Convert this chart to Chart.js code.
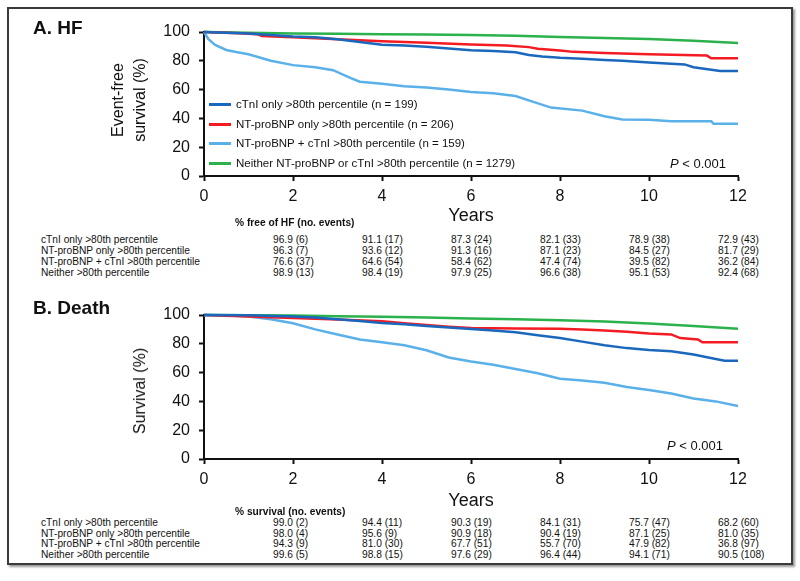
<!DOCTYPE html>
<html>
<head>
<meta charset="utf-8">
<script src="https://cdn.jsdelivr.net/npm/chart.js@4.4.0/dist/chart.umd.min.js"></script>
<style>
  body { margin: 0; background: #fff; font-family: 'Liberation Sans', Arial, sans-serif; color: #111; }
  #wrap { position: relative; width: 800px; height: 581px; overflow: hidden; }
  #frame { position: absolute; left: 7px; top: 7px; width: 786px; height: 558px; box-sizing: border-box;
           border: 2px solid #3a3a3a; box-shadow: 2px 2px 2px #9a9a9a; }
  canvas { position: absolute; left: 0; }
  .t { position: absolute; white-space: nowrap; }
  .panel { font-weight: bold; font-size: 19px; line-height: 19px; }
  .ytitle { font-size: 16px; line-height: 22px; text-align: center; transform: translate(-50%, -50%) rotate(-90deg); }
  .xtitle { font-size: 18px; line-height: 18px; transform: translateX(-50%); }
  .leg { font-size: 11.5px; line-height: 12px; }
  .legline { position: absolute; width: 22px; height: 3px; }
  .pval { font-size: 13px; line-height: 13px; }
  .tab { font-size: 10.2px; line-height: 10px; }
  .tabhead { font-size: 10.2px; line-height: 10px; font-weight: bold; }
</style>
</head>
<body>
<div id="wrap">
  <div id="frame"></div>
  <canvas id="chartHF" width="800" height="230" style="top:0px"></canvas>
  <canvas id="chartDeath" width="800" height="230" style="top:283px"></canvas>
  <div id="labels"></div>
</div>
<script>
// series names
const groups = ['cTnI only >80th percentile (n = 199)', 'NT-proBNP only >80th percentile (n = 206)',
  'NT-proBNP + cTnI >80th percentile (n = 159)', 'Neither NT-proBNP or cTnI >80th percentile (n = 1279)'];
const colors = ['#1A68BD', '#F41C22', '#5AB0E8', '#2BB24C'];
const yearTicks = [0, 2, 4, 6, 8, 10, 12];

// A. HF - event-free survival (%)
const hfCtniT = [0, 0.5, 1, 1.5, 2, 2.5, 3, 3.5, 4, 4.5, 5, 5.5, 6, 6.5, 7, 7.3, 7.6, 8, 8.5, 9, 9.4, 10, 10.8, 11, 11.6, 12];
const hfCtniV = [100, 99.5, 99, 98, 96.9, 96.3, 95, 93, 91.1, 90.6, 89.8, 88.5, 87.3, 86.8, 86, 84, 83, 82.1, 81.5, 80.6, 80, 78.9, 77.5, 75.5, 73, 72.9];
const hfNtT = [0, 0.8, 1.2, 1.3, 2, 2.5, 3, 4, 5, 6, 6.8, 7.3, 7.5, 8, 8.3, 9, 10, 11.3, 11.4, 12];
const hfNtV = [100, 99.2, 98.5, 97.2, 96.3, 95.6, 95, 93.6, 92.5, 91.3, 90.6, 89.5, 88.3, 87.1, 86.2, 85.5, 84.5, 83.6, 81.7, 81.7];
const hfBothT = [0, 0.1, 0.25, 0.5, 0.75, 1, 1.5, 2, 2.5, 2.9, 3.3, 3.5, 4, 4.5, 5, 5.5, 6, 6.5, 7, 7.4, 7.8, 8.5, 9, 9.4, 10, 10.5, 11.4, 11.45, 12];
const hfBothV = [100, 95, 91, 87.5, 86, 84.5, 80, 77, 75.5, 73.5, 68, 65.5, 64, 62.3, 61.5, 60, 58.4, 57.5, 55.5, 51.5, 47.5, 45.4, 41.5, 39.3, 39, 38, 38, 36.2, 36.2];
const hfNoneT = [0, 1, 2, 3, 4, 5, 6, 7, 8, 9, 10, 11, 12];
const hfNoneV = [100, 99.4, 98.9, 98.7, 98.4, 98.2, 97.9, 97.4, 96.6, 95.9, 95.1, 93.9, 92.4];

// B. Death - survival (%)
const dCtniT = [0, 1, 2, 2.5, 3, 3.5, 4, 4.5, 5, 5.5, 6, 6.5, 7, 7.5, 8, 8.5, 9, 9.5, 10, 10.5, 11, 11.5, 11.7, 12];
const dCtniV = [100, 99.8, 99, 98.2, 97, 95.8, 94.4, 93.5, 92.3, 91.3, 90.3, 89.3, 88, 86, 84.1, 81.5, 79, 77, 75.7, 74.8, 72.5, 69.5, 68.2, 68.2];
const dNtT = [0, 1, 2, 3, 4, 4.5, 5, 5.5, 6, 7, 8, 8.5, 9, 9.5, 10, 10.5, 10.7, 11.1, 11.2, 12];
const dNtV = [100, 99, 98, 96.8, 95.6, 94.3, 93, 91.8, 90.9, 90.6, 90.4, 90, 89.2, 88.3, 87.1, 86.5, 84, 83, 81, 81];
const dBothT = [0, 0.5, 1, 1.5, 2, 2.5, 3, 3.5, 4, 4.5, 5, 5.5, 6, 6.5, 7, 7.5, 8, 8.5, 9, 9.5, 10, 10.5, 11, 11.5, 12];
const dBothV = [100, 99.8, 99, 97, 94.3, 90, 86.5, 83, 81, 79, 75.5, 70.5, 67.7, 65.5, 62.5, 59.5, 55.7, 54.5, 53, 50, 47.9, 45.5, 42, 40, 36.8];
const dNoneT = [0, 1, 2, 3, 4, 5, 6, 7, 8, 9, 10, 11, 12];
const dNoneV = [100, 99.8, 99.6, 99.2, 98.8, 98.2, 97.6, 97.1, 96.4, 95.4, 94.1, 92.4, 90.5];

// tables under each panel
const rowNames = ['cTnI only >80th percentile', 'NT-proBNP only >80th percentile', 'NT-proBNP + cTnI >80th percentile', 'Neither >80th percentile'];
const hfTable = [
  ['96.9 (6)', '91.1 (17)', '87.3 (24)', '82.1 (33)', '78.9 (38)', '72.9 (43)'],
  ['96.3 (7)', '93.6 (12)', '91.3 (16)', '87.1 (23)', '84.5 (27)', '81.7 (29)'],
  ['76.6 (37)', '64.6 (54)', '58.4 (62)', '47.4 (74)', '39.5 (82)', '36.2 (84)'],
  ['98.9 (13)', '98.4 (19)', '97.9 (25)', '96.6 (38)', '95.1 (53)', '92.4 (68)']
];
const deathTable = [
  ['99.0 (2)', '94.4 (11)', '90.3 (19)', '84.1 (31)', '75.7 (47)', '68.2 (60)'],
  ['98.0 (4)', '95.6 (9)', '90.9 (18)', '90.4 (19)', '87.1 (25)', '81.0 (35)'],
  ['94.3 (9)', '81.0 (30)', '67.7 (51)', '55.7 (70)', '47.9 (82)', '36.8 (97)'],
  ['99.6 (5)', '98.8 (15)', '97.6 (29)', '96.4 (44)', '94.1 (71)', '90.5 (108)']
];

function pts(t, v) {
  return t.map((x, i) => ({ x: x, y: v[i] }));
}

const font = "'Liberation Sans', Arial, sans-serif";

function kmChart(id, series) {
  return new Chart(document.getElementById(id), {
    type: 'line',
    data: {
      datasets: series.map((s, i) => ({
        label: groups[i],
        data: pts(s[0], s[1]),
        borderColor: colors[i],
        backgroundColor: colors[i],
        borderWidth: 2.5,
        pointRadius: 0,
        tension: 0,
        clip: false
      }))
    },
    options: {
      responsive: false,
      animation: false,
      layout: { autoPadding: false, padding: { left: 154, top: 32, right: 62, bottom: 14 } },
      plugins: { legend: { display: false }, tooltip: { enabled: false } },
      scales: {
        x: {
          type: 'linear', min: 0, max: 12,
          afterBuildTicks: s => { s.ticks = yearTicks.map(v => ({ value: v })); },
          afterFit: s => { s.height = 40; },
          ticks: { color: '#111', font: { family: font, size: 16 }, padding: 6 },
          grid: { drawOnChartArea: false, tickLength: 5, tickColor: '#111', tickWidth: 2 },
          border: { display: true, color: '#111', width: 2 }
        },
        y: {
          min: 0, max: 100,
          afterFit: s => { s.width = 50; },
          ticks: { stepSize: 20, color: '#111', font: { family: font, size: 16 }, padding: 9 },
          grid: { drawOnChartArea: false, tickLength: 5, tickColor: '#111', tickWidth: 2 },
          border: { display: true, color: '#111', width: 2 }
        }
      }
    }
  });
}

kmChart('chartHF', [[hfCtniT, hfCtniV], [hfNtT, hfNtV], [hfBothT, hfBothV], [hfNoneT, hfNoneV]]);
kmChart('chartDeath', [[dCtniT, dCtniV], [dNtT, dNtV], [dBothT, dBothV], [dNoneT, dNoneV]]);

// text around the plots
const box = document.getElementById('labels');
function put(cls, html, left, top) {
  const d = document.createElement('div');
  d.className = 't ' + cls;
  d.innerHTML = html;
  d.style.left = left + 'px';
  d.style.top = top + 'px';
  box.appendChild(d);
  return d;
}

put('panel', 'A. HF', 33, 18);
put('panel', 'B. Death', 33, 298);
put('ytitle', 'Event-free<br>survival (%)', 129, 100);
put('ytitle', 'Survival (%)', 140, 391);
put('xtitle', 'Years', 471, 206);
put('xtitle', 'Years', 471, 491);

const legY = [104, 124, 143, 163];
groups.forEach((g, i) => {
  const l = document.createElement('div');
  l.className = 'legline';
  l.style.left = '209px';
  l.style.top = (legY[i] - 1.5) + 'px';
  l.style.background = colors[i];
  box.appendChild(l);
  put('leg', g, 236, legY[i] - 6);
});
put('pval', '<i>P</i> &lt; 0.001', 670, 157);
put('pval', '<i>P</i> &lt; 0.001', 667, 439);

const colLeft = [273, 362, 451, 540, 629, 718];
function table(head, rows, headY, rowY) {
  put('tabhead', head, 235, headY - 5);
  rows.forEach((r, i) => {
    put('tab', rowNames[i], 41, rowY[i] - 5);
    r.forEach((c, j) => put('tab', c, colLeft[j], rowY[i] - 5));
  });
}
table('% free of HF (no. events)', hfTable, 223, [240, 251, 262, 273]);
table('% survival (no. events)', deathTable, 512, [523, 534, 544, 555]);
</script>
</body>
</html>
